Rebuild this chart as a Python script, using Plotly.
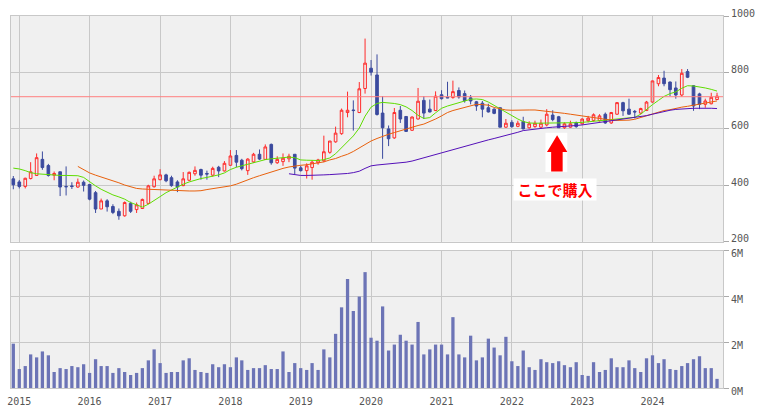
import plotly.graph_objects as go
import pandas as pd

# ---------------- data (monthly, Dec 2014 .. Dec 2024) ----------------
months = pd.date_range("2014-12-01", periods=121, freq="MS")

opens = [423, 412, 396, 424, 435, 492, 470, 436, 448, 396,
         398, 394, 411, 403, 374, 316, 345, 325, 308, 292,
         336, 314, 318, 336, 395, 420, 437, 427, 412, 399,
         418, 441, 456, 442, 436, 464, 451, 471, 506, 489,
         452, 483, 510, 492, 545, 480, 484, 494, 510, 462,
         452, 463, 480, 487, 517, 554, 583, 658, 667, 658,
         743, 815, 791, 656, 600, 568, 666, 644, 595, 635,
         701, 670, 665, 721, 712, 711, 736, 725, 710, 696,
         691, 675, 670, 675, 606, 623, 609, 626, 604, 608,
         606, 614, 649, 643, 604, 606, 622, 618, 629, 630,
         629, 652, 621, 652, 693, 670, 662, 656, 665, 695,
         760, 780, 766, 745, 720, 803, 753, 724, 687, 689,
         704]
highs = [433, 419, 427, 482, 513, 520, 476, 449, 448, 467,
         411, 424, 417, 403, 380, 353, 351, 333, 318, 343,
         342, 339, 353, 402, 434, 457, 441, 434, 418, 447,
         449, 467, 459, 452, 466, 469, 486, 525, 525, 494,
         496, 515, 527, 545, 548, 503, 513, 512, 510, 469,
         478, 488, 494, 576, 557, 608, 672, 732, 701, 766,
         920, 844, 864, 716, 612, 674, 681, 644, 644, 745,
         716, 704, 733, 737, 767, 771, 747, 736, 720, 699,
         699, 689, 673, 675, 635, 631, 629, 643, 627, 629,
         633, 670, 666, 646, 623, 629, 626, 637, 646, 655,
         652, 658, 660, 695, 696, 707, 667, 675, 699, 771,
         791, 806, 768, 768, 812, 812, 755, 728, 707, 728,
         728]
lows = [386, 389, 389, 421, 433, 455, 431, 418, 362, 364,
        387, 391, 378, 347, 302, 316, 307, 298, 278, 289,
        302, 302, 316, 333, 392, 418, 411, 395, 376, 397,
        415, 434, 420, 420, 431, 429, 449, 469, 464, 453,
        437, 479, 490, 490, 473, 476, 469, 482, 440, 449,
        424, 420, 473, 482, 512, 551, 579, 641, 594, 656,
        725, 789, 647, 494, 539, 565, 621, 589, 593, 633,
        635, 658, 663, 704, 709, 707, 707, 693, 687, 664,
        641, 658, 652, 606, 604, 604, 606, 598, 601, 604,
        600, 609, 627, 604, 600, 604, 604, 615, 623, 626,
        626, 618, 618, 650, 646, 650, 637, 652, 664, 693,
        751, 751, 716, 707, 714, 780, 664, 670, 675, 687,
        702]
closes = [402, 396, 425, 448, 498, 463, 435, 442, 394, 395,
          396, 411, 400, 351, 316, 345, 324, 304, 292, 339,
          308, 331, 350, 398, 423, 437, 416, 399, 394, 423,
          446, 453, 436, 440, 460, 451, 478, 504, 482, 459,
          493, 510, 493, 536, 480, 492, 496, 503, 461, 452,
          469, 482, 490, 519, 557, 585, 666, 666, 665, 742,
          833, 801, 651, 604, 565, 658, 635, 591, 642, 698,
          656, 660, 716, 707, 710, 732, 713, 700, 699, 681,
          670, 660, 655, 606, 620, 608, 620, 600, 618, 620,
          620, 652, 633, 604, 618, 618, 608, 635, 638, 650,
          646, 621, 658, 693, 664, 652, 660, 672, 695, 770,
          782, 760, 739, 720, 797, 783, 681, 687, 699, 712,
          716]

# volume in millions of shares
volume_m = [1.94, 0.83, 0.96, 1.47, 1.34, 1.60, 1.43, 0.70, 0.87, 0.83,
            0.96, 0.91, 1.04, 0.66, 1.26, 0.96, 0.96, 0.66, 0.87, 0.70,
            0.57, 0.66, 0.87, 1.21, 1.69, 1.09, 0.66, 0.70, 0.70, 1.21,
            1.30, 0.79, 0.70, 0.66, 1.04, 0.91, 1.04, 0.91, 1.34, 1.21,
            0.79, 0.87, 0.87, 1.00, 0.83, 0.83, 1.60, 0.70, 1.09, 0.87,
            0.79, 1.09, 0.79, 1.69, 1.34, 2.37, 3.53, 4.77, 3.37, 4.00,
            5.07, 2.20, 2.07, 3.57, 1.64, 1.90, 2.33, 2.07, 1.90, 2.89,
            1.47, 1.69, 1.90, 1.90, 1.47, 3.10, 1.47, 1.34, 2.29, 1.21,
            1.34, 2.16, 1.77, 1.43, 2.24, 1.17, 0.96, 1.64, 0.91, 0.79,
            1.26, 1.13, 1.09, 1.17, 1.00, 0.91, 1.13, 0.57, 0.53, 1.13,
            0.70, 0.79, 1.30, 0.91, 0.91, 1.21, 0.87, 0.70, 1.30, 1.43,
            1.09, 1.26, 0.83, 0.79, 0.96, 1.09, 1.26, 1.39, 0.87, 0.87,
            0.40]

# moving averages
ma_short = [461, 458, 452, 445, 441, 439, 437, 436, 435, 435,
            435, 434, 428, 412, 398, 386, 375, 366, 359, 351,
            339, 331, 323, 333, 345, 360, 374, 384, 396, 404,
            412, 419, 424, 428, 432, 437, 444, 456, 464, 469,
            476, 481, 486, 491, 494, 496, 498, 500, 498, 490,
            489, 488, 488, 491, 497, 512, 532, 552, 575, 603,
            645, 677, 690, 694, 693, 690, 686, 678, 665, 648,
            637, 640, 657, 673, 681, 687, 693, 700, 705, 706,
            704, 695, 683, 670, 657, 645, 635, 626, 621, 620,
            620, 620, 621, 621, 621, 622, 622, 623, 625, 627,
            628, 630, 632, 634, 635, 638, 641, 652, 670, 686,
            701, 715, 725, 731, 744, 753, 752, 749, 745, 740,
            734]
ma_mid_start = "2015-11-01"
ma_mid = [467, 455, 444, 436, 430, 423, 418, 409, 401,
          394, 389, 387, 386, 385, 384, 382, 381, 380, 380,
          380, 380, 381, 385, 388, 390, 393, 398, 404, 412,
          420, 427, 434, 441, 447, 455, 460, 465, 469, 471,
          473, 476, 479, 483, 490, 495, 503, 510, 520, 533,
          546, 557, 566, 574, 581, 587, 594, 600, 606, 612,
          617, 625, 635, 646, 658, 665, 671, 676, 683, 687,
          686, 684, 676, 671, 667, 666, 667, 667, 667, 667,
          665, 663, 661, 658, 655, 652, 649, 645, 641, 638,
          635, 633, 631, 630, 630, 631, 634, 640, 647, 654,
          660, 665, 668, 673, 677, 680, 684, 688, 692, 696,
          699]
ma_long_start = "2018-11-01"
ma_long = [441, 437, 435, 435, 435, 436, 437, 438, 439,
           441, 442, 445, 450, 460, 469, 472, 474, 476, 477,
           479, 482, 486, 492, 498, 503, 509, 515, 521, 527,
           533, 539, 545, 551, 556, 561, 566, 571, 577, 582,
           588, 594, 597, 600, 602, 604, 606, 607, 609, 611,
           612, 614, 617, 619, 622, 625, 628, 631, 634, 636,
           640, 643, 647, 652, 657, 662, 666, 669, 671, 672,
           673, 673, 674, 673, 672]

ref_price = 714
price_ticks = [200, 400, 600, 800, 1000]
year_ticks = ["2015", "2016", "2017", "2018", "2019", "2020", "2021", "2022", "2023", "2024"]
vol_ticks = [0, 2e6, 4e6, 6e6]
vol_tick_text = ["0M", "2M", "4M", "6M"]
annotation_text = "ここで購入"

# ---------------- styling ----------------
BG = "#f0f0f0"
GRID = "#c8c8c8"
UP = "#ff2b2b"
DOWN = "#3b4a9e"
VOLC = "#6c74b6"
FONT = dict(family="DejaVu Sans Mono", size=10, color="#555555")

mid_x = pd.date_range(ma_mid_start, periods=len(ma_mid), freq="MS")
long_x = pd.date_range(ma_long_start, periods=len(ma_long), freq="MS")
year_vals = [f"{y}-01-01" for y in year_ticks]

fig = go.Figure()

fig.add_trace(go.Scatter(x=months, y=ma_short, mode="lines",
                         line=dict(color="#5fdc00", width=1), xaxis="x", yaxis="y"))
fig.add_trace(go.Scatter(x=mid_x, y=ma_mid, mode="lines",
                         line=dict(color="#e8600c", width=1), xaxis="x", yaxis="y"))
fig.add_trace(go.Scatter(x=long_x, y=ma_long, mode="lines",
                         line=dict(color="#5410b8", width=1), xaxis="x", yaxis="y"))

fig.add_trace(go.Candlestick(
    x=months, open=opens, high=highs, low=lows, close=closes,
    increasing=dict(line=dict(color=UP, width=1), fillcolor="rgba(0,0,0,0)"),
    decreasing=dict(line=dict(color=DOWN, width=1), fillcolor=DOWN),
    whiskerwidth=0, xaxis="x", yaxis="y"))

fig.add_trace(go.Bar(x=months, y=[v * 1e6 for v in volume_m], marker_color=VOLC,
                     marker_line_width=0, width=17 * 86400000,
                     xaxis="x2", yaxis="y2"))

# reference (current price) line
fig.add_shape(type="line", xref="paper", x0=0, x1=1, yref="y", y0=ref_price, y1=ref_price,
              line=dict(color="#ff7f7f", width=1), layer="above")

# arrow with white backing
def px_x(p):
    return (p - 7) / 718.0

def px_y(p):
    return (389 - p) / 379.0

fig.add_shape(type="rect", xref="paper", yref="paper",
              x0=px_x(546), x1=px_x(568), y0=px_y(169), y1=px_y(129),
              fillcolor="white", line=dict(width=0), layer="above")
arrow = [(557.7, 131.5), (568, 148.5), (563.3, 148.5), (563.3, 168.5),
         (551.7, 168.5), (551.7, 148.5), (547.5, 148.5)]
path = "M " + " L ".join(f"{px_x(a):.5f},{px_y(b):.5f}" for a, b in arrow) + " Z"
fig.add_shape(type="path", xref="paper", yref="paper", path=path,
              fillcolor="#ff0000", line=dict(width=0), layer="above")

fig.add_annotation(xref="paper", yref="paper", x=px_x(556), y=px_y(186.5),
                   xanchor="center", yanchor="middle",
                   text=f"<b>{annotation_text}</b>", showarrow=False,
                   font=dict(family="Noto Sans CJK JP", size=15, color="#ff0000"),
                   bgcolor="white", borderpad=2, width=78, height=17)

axis_common = dict(showgrid=True, gridcolor=GRID, gridwidth=1, showline=True,
                   linecolor=GRID, linewidth=1, mirror=True, zeroline=False)

fig.update_layout(
    width=762, height=414,
    margin=dict(l=7, r=37, t=10, b=25),
    paper_bgcolor="white", plot_bgcolor=BG,
    showlegend=False, font=FONT,
    xaxis=dict(domain=[0, 1], anchor="y", range=["2014-11-19", "2025-01-01"],
               tickvals=year_vals, ticktext=year_ticks, showticklabels=False,
               rangeslider=dict(visible=False), ticks="", **axis_common),
    xaxis2=dict(domain=[0, 1], anchor="y2", range=["2014-11-19", "2025-01-01"],
                matches="x", tickvals=year_vals, ticktext=year_ticks,
                ticks="", ticklabelstandoff=4, tickfont=FONT, **axis_common),
    yaxis=dict(domain=[0.3931, 1], anchor="x", side="right", range=[200, 1000],
               tickvals=price_ticks, ticks="outside", ticklen=5, tickcolor="#aaaaaa",
               ticklabelshift=-3, tickfont=FONT, **axis_common),
    yaxis2=dict(domain=[0, 0.3686], anchor="x2", side="right", range=[0, 6e6],
                tickvals=vol_ticks, ticktext=vol_tick_text, ticks="outside", ticklen=5,
                tickcolor="#aaaaaa", ticklabelshift=3, tickfont=FONT, **axis_common),
)

fig.write_html("out.html")
